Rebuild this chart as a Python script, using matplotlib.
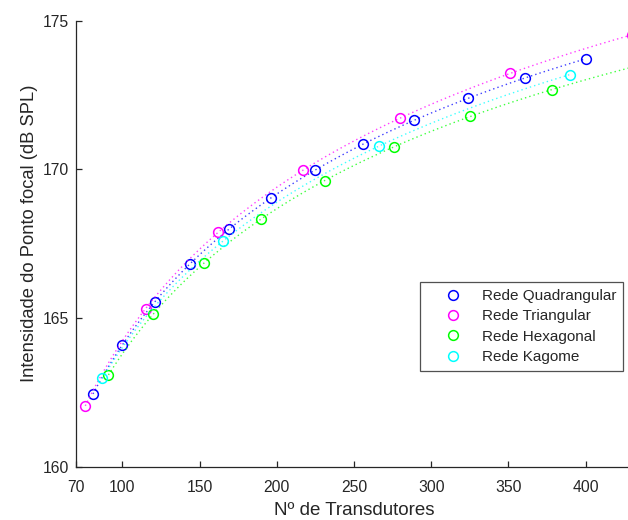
import numpy as np
import matplotlib
matplotlib.use("Agg")
import matplotlib.pyplot as plt

plt.rcParams["font.family"] = ["Liberation Sans", "DejaVu Sans"]

# Number of transducers and focal-point intensity for each array layout
quad_n = [81, 100, 121, 144, 169, 196, 225, 256, 289, 324, 361, 400]
quad_db = [162.46, 164.10, 165.56, 166.82, 167.99, 169.03, 169.98, 170.87,
           171.66, 172.40, 173.09, 173.70]

tri_n = [76, 115, 162, 217, 280, 351, 430]
tri_db = [162.06, 165.31, 167.89, 169.97, 171.74, 173.23, 174.52]

hex_n = [91, 120, 153, 190, 231, 276, 325, 378]
hex_db = [163.10, 165.13, 166.86, 168.34, 169.62, 170.77, 171.79, 172.67]

kag_n = [87, 165, 266, 390]
kag_db = [162.98, 167.58, 170.79, 173.19]

labels = ["Rede Quadrangular", "Rede Triangular", "Rede Hexagonal", "Rede Kagome"]
colors = ["#0000ff", "#ff00ff", "#00ff00", "#00ffff"]
series = [(quad_n, quad_db), (tri_n, tri_db), (hex_n, hex_db), (kag_n, kag_db)]
fit_end = [None, None, 430, None]

x_ticks = [70, 100, 150, 200, 250, 300, 350, 400]
y_ticks = [160, 165, 170, 175]

W, H, DPI = 628, 520, 100
fig = plt.figure(figsize=(W / DPI, H / DPI), dpi=DPI)
ax_left, ax_right, ax_top, ax_bot = 76, 632, 20.7, 467
ax = fig.add_axes([ax_left / W, 1 - ax_bot / H,
                   (ax_right - ax_left) / W, (ax_bot - ax_top) / H])

text_color = "#262626"
handles = []
for (n, db), col, lab, xe in zip(series, colors, labels, fit_end):
    n = np.asarray(n, float)
    db = np.asarray(db, float)
    # smooth trend curve (quadratic in log of transducer count)
    coef = np.polyfit(np.log(n), db, 2)
    xs = np.linspace(n.min(), xe if xe else n.max(), 300)
    ax.plot(xs, np.polyval(coef, np.log(xs)), linestyle=(0, (1, 2.2)),
            color=col, lw=1.0, alpha=0.75)
    h, = ax.plot(n, db, linestyle="none", marker="o", markersize=7,
                 markerfacecolor="none", markeredgecolor=col,
                 markeredgewidth=1.1, label=lab)
    handles.append(h)

ax.set_xlim(70, 430)
ax.set_ylim(160, 175)
ax.set_xticks(x_ticks)
ax.set_yticks(y_ticks)
ax.spines["top"].set_visible(False)
ax.spines["right"].set_visible(False)
for s in ("left", "bottom"):
    ax.spines[s].set_color(text_color)
    ax.spines[s].set_linewidth(0.9)
ax.tick_params(direction="in", length=4, width=0.9, colors=text_color,
               labelsize=11.3)
ax.tick_params(axis="x", pad=9)
ax.tick_params(axis="y", pad=5)

ax.set_xlabel("Nº de Transdutores", fontsize=13.5, color=text_color,
              labelpad=5.5)
ax.set_ylabel("Intensidade do Ponto focal (dB SPL)", fontsize=13.2,
              color=text_color, labelpad=3.5)
ax.yaxis.label.set_y(0.524)

leg = ax.legend(handles=handles, loc="upper left",
                bbox_to_anchor=(420 / W, 1 - 282 / H),
                bbox_transform=fig.transFigure, prop={"size": 11},
                frameon=True, fancybox=False, borderpad=0.45,
                labelspacing=0.42, handletextpad=0.2, handlelength=3.4,
                borderaxespad=0)
leg.get_frame().set_edgecolor(text_color)
leg.get_frame().set_linewidth(0.9)
for t in leg.get_texts():
    t.set_color(text_color)

fig.savefig("out.png", dpi=DPI)
